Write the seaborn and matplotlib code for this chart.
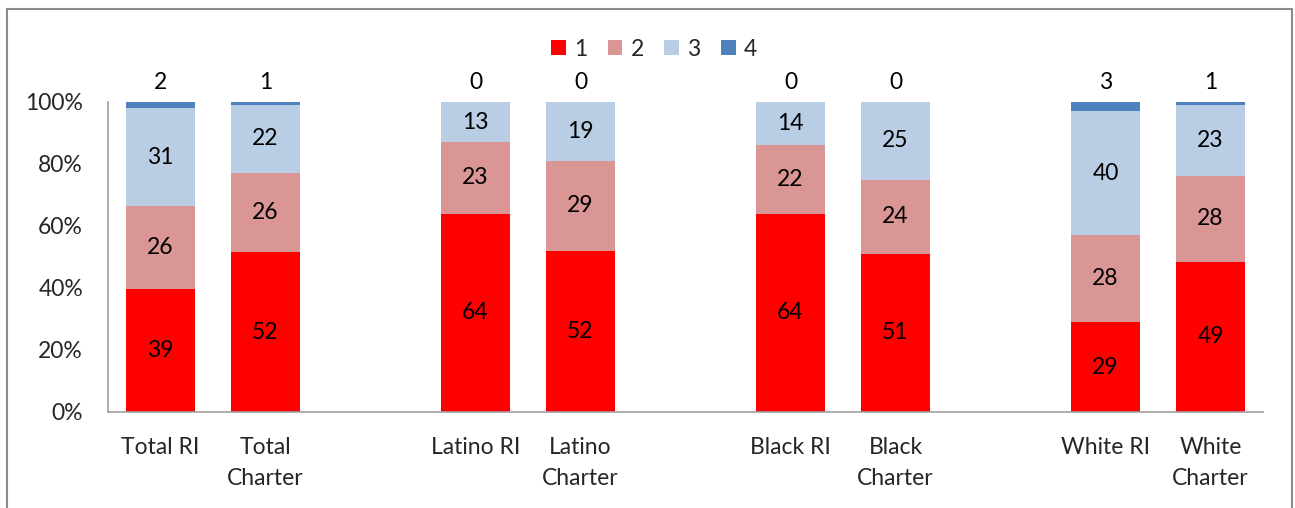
import matplotlib
matplotlib.use("Agg")
import matplotlib.pyplot as plt
import seaborn as sns
import numpy as np
import pandas as pd
from matplotlib.patches import Rectangle, Patch

# Categories and slot positions (empty slots separate the groups)
categories = ["Total RI", "Total\nCharter", "Latino RI", "Latino\nCharter",
              "Black RI", "Black\nCharter", "White RI", "White\nCharter"]
positions = [0, 1, 3, 4, 6, 7, 9, 10]

# Counts for each response level
level_1 = [39, 52, 64, 52, 64, 51, 29, 49]
level_2 = [26, 26, 23, 29, 22, 24, 28, 28]
level_3 = [31, 22, 13, 19, 14, 25, 40, 23]
level_4 = [2, 1, 0, 0, 0, 0, 3, 1]

series_names = ["1", "2", "3", "4"]
colors = ["#FF0000", "#D99694", "#B9CDE5", "#4F81BD"]
ytick_labels = ["0%", "20%", "40%", "60%", "80%", "100%"]

sns.set_theme(style="white")
plt.rcParams["font.family"] = ["Lato", "DejaVu Sans"]
FS = 16.5

values = np.array([level_1, level_2, level_3, level_4], dtype=float)
shares = values / values.sum(axis=0) * 100
tops = np.cumsum(shares, axis=0)

fig = plt.figure(figsize=(12.95, 5.08), dpi=100)
ax = fig.add_axes([108 / 1295, 1 - 412 / 508, (1263 - 108) / 1295, 310 / 508])

# Stacked bars: draw cumulative totals from the top layer down
for i in range(3, -1, -1):
    df = pd.DataFrame({"pos": positions, "top": tops[i]})
    sns.barplot(data=df, x="pos", y="top", native_scale=True, color=colors[i],
                width=0.65, saturation=1, errorbar=None, ax=ax, linewidth=0)

# Segment labels
for j, p in enumerate(positions):
    for i in range(3):
        bottom = tops[i - 1][j] if i > 0 else 0
        ax.text(p, bottom + shares[i][j] / 2, f"{int(values[i][j])}",
                ha="center", va="center", fontsize=FS, color="black")
    ax.annotate(f"{int(values[3][j])}", xy=(p, tops[3][j]), xytext=(0, 14),
                textcoords="offset points", ha="center", va="center",
                fontsize=FS, color="black", annotation_clip=False)

ax.set_xlim(-0.5, 10.5)
ax.set_ylim(0, 100)
ax.set_yticks(np.arange(0, 101, 20))
ax.set_yticklabels(ytick_labels, fontsize=FS)
ax.set_xticks(positions)
ax.set_xticklabels(categories, fontsize=FS, linespacing=1.6)
ax.tick_params(axis="y", length=0, pad=18)
ax.tick_params(axis="x", length=0, pad=18)
ax.set_xlabel("")
ax.set_ylabel("")
for s in ["top", "right"]:
    ax.spines[s].set_visible(False)
for s in ["left", "bottom"]:
    ax.spines[s].set_color("#A0A0A0")
    ax.spines[s].set_linewidth(1.2)

handles = [Patch(facecolor=c, edgecolor="none") for c in colors]
fig.legend(handles, series_names, loc="center", ncol=4,
           bbox_to_anchor=(654 / 1295, 1 - 49 / 508), frameon=False,
           fontsize=FS, handlelength=0.65, handleheight=0.65,
           handletextpad=0.35, columnspacing=0.9)

# Outer frame around the chart area
fig.patches.append(Rectangle((7 / 1295, -0.05), (1292 - 7) / 1295, 1.05 - 9 / 508,
                             transform=fig.transFigure, fill=False,
                             edgecolor="#8C8C8C", linewidth=1.5))

fig.savefig("out.png", dpi=100)
